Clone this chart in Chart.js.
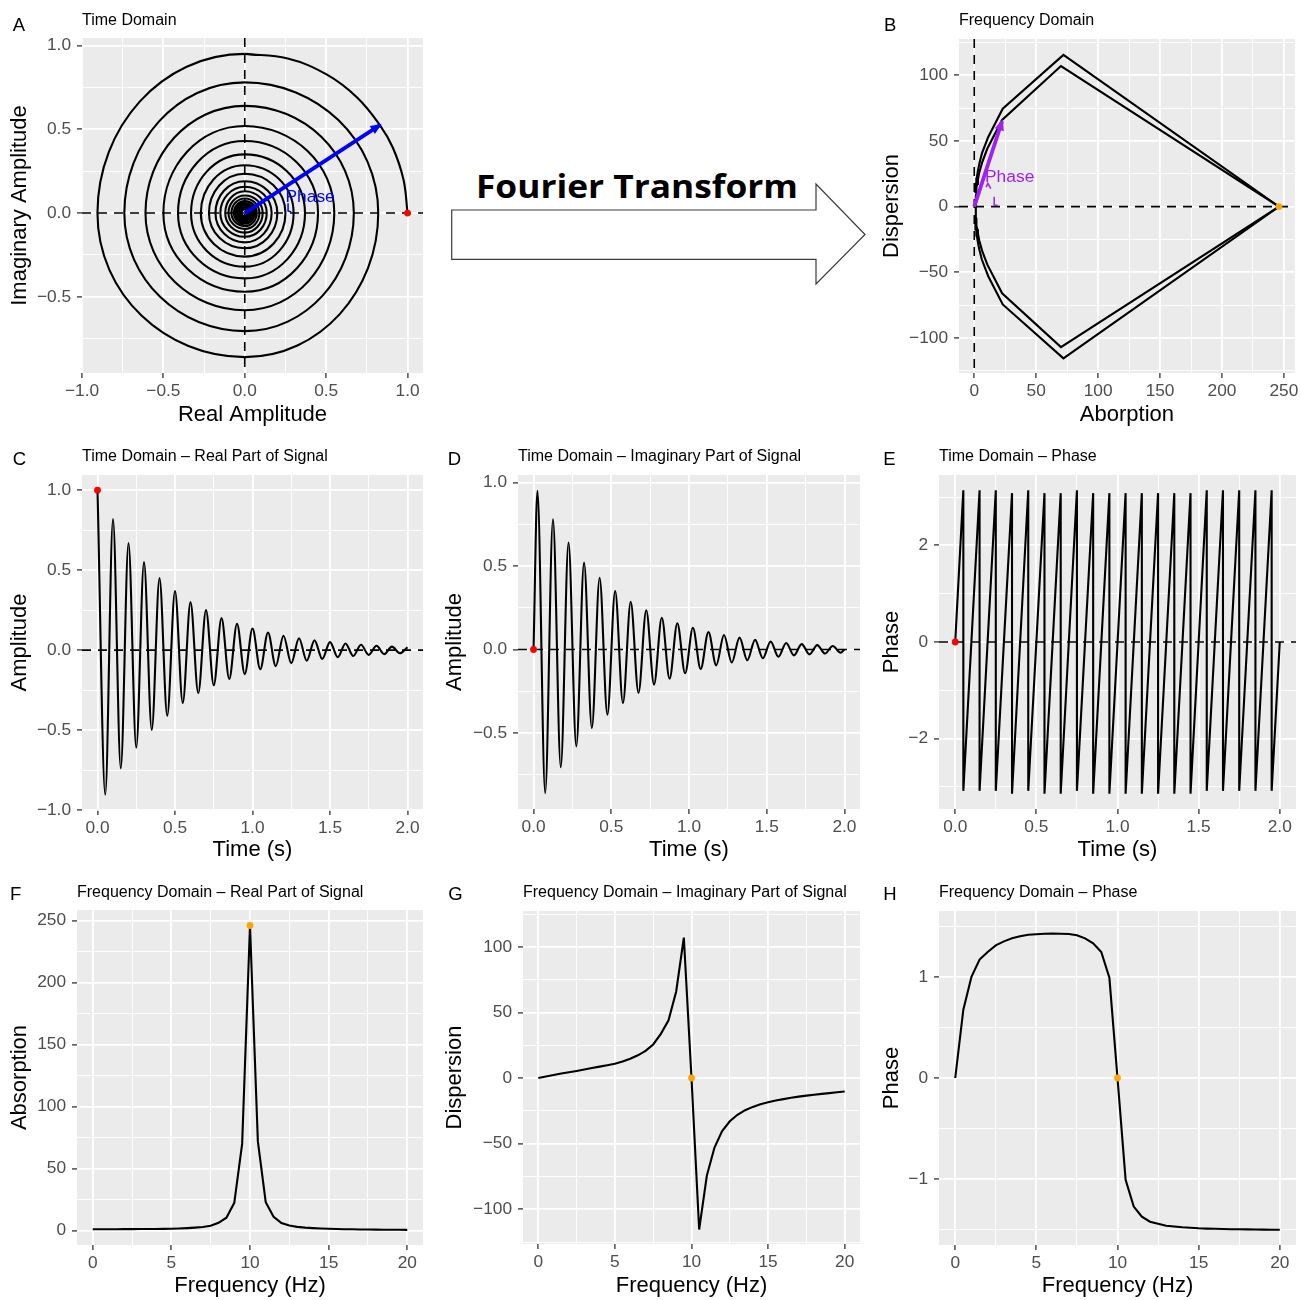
<!DOCTYPE html>
<html lang="en">
<head>
<meta charset="UTF-8">
<title>Fourier Transform of a decaying complex signal</title>
<script src="https://cdn.jsdelivr.net/npm/chart.js"></script>
<style>
  body {
    margin: 0;
    background: #ffffff;
    width: 1301px;
    height: 1300px;
    position: relative;
    overflow: hidden;
  }
  canvas { position: absolute; }
  #ftArrow { position: absolute; left: 435px; top: 150px; }
</style>
</head>
<body>
<svg id="ftArrow" width="435" height="150" viewBox="435 150 435 150">
  <path d="M451.7,210 L816,210 L816,184 L865,234.5 L816,284 L816,259.3 L451.7,259.3 Z"
        fill="#ffffff" stroke="#3a3a3a" stroke-width="1.2"/>
  <text x="476" y="198" font-family="'Open Sans', 'Liberation Sans', sans-serif" font-weight="700"
        font-size="32.5" textLength="322" lengthAdjust="spacingAndGlyphs" fill="#000">Fourier Transform</text>
</svg>
<script>
const FONT = "'Liberation Sans', Arial, Helvetica, sans-serif";
Chart.defaults.font.family = FONT;

// ---------- time domain ----------
// real part: extrema every half period of the 10 Hz carrier
const reTimes = [0, 0.05, 0.1, 0.15, 0.2, 0.25, 0.3, 0.35, 0.4, 0.45, 0.5, 0.55, 0.6, 0.65, 0.7,
  0.75, 0.8, 0.85, 0.9, 0.95, 1.0, 1.05, 1.1, 1.15, 1.2, 1.25, 1.3, 1.35, 1.4, 1.45, 1.5, 1.55,
  1.6, 1.65, 1.7, 1.75, 1.8, 1.85, 1.9, 1.95, 2.0];
const reExtrema = [1.0, -0.905, 0.82, -0.74, 0.67, -0.61, 0.55, -0.50, 0.45, -0.41, 0.37, -0.33,
  0.30, -0.27, 0.25, -0.22, 0.20, -0.18, 0.165, -0.15, 0.135, -0.12, 0.11, -0.10, 0.09, -0.082,
  0.074, -0.067, 0.061, -0.055, 0.05, -0.045, 0.041, -0.037, 0.033, -0.03, 0.027, -0.025, 0.022,
  -0.02, 0.018];

// imaginary part: start, extrema (quarter period offset), end
const imTimes = [0, 0.025, 0.075, 0.125, 0.175, 0.225, 0.275, 0.325, 0.375, 0.425, 0.475, 0.525,
  0.575, 0.625, 0.675, 0.725, 0.775, 0.825, 0.875, 0.925, 0.975, 1.025, 1.075, 1.125, 1.175,
  1.225, 1.275, 1.325, 1.375, 1.425, 1.475, 1.525, 1.575, 1.625, 1.675, 1.725, 1.775, 1.825,
  1.875, 1.925, 1.975, 2.0];
const imValues = [0, 0.95, -0.86, 0.78, -0.705, 0.64, -0.58, 0.52, -0.47, 0.43, -0.39, 0.35,
  -0.32, 0.285, -0.26, 0.235, -0.21, 0.19, -0.175, 0.157, -0.142, 0.13, -0.117, 0.105, -0.095,
  0.087, -0.078, 0.071, -0.064, 0.058, -0.052, 0.048, -0.043, 0.039, -0.035, 0.032, -0.029,
  0.026, -0.024, 0.021, -0.019, 0];

// first quarter turn of the complex signal (real, imaginary)
const firstTurnRe = [1.0, 0.975, 0.91, 0.83, 0.69, 0.505, 0.264, 0];
const firstTurnIm = [0, 0.2, 0.39, 0.525, 0.69, 0.826, 0.922, 0.95];

// wrapped phase: jumps from +pi to -pi
const phaseStart = [0, 0];
const phaseEnd = [2.0, 0];
const phaseWrapTimes = [0.05, 0.15, 0.25, 0.35, 0.45, 0.55, 0.65, 0.75, 0.85, 0.95, 1.05, 1.15,
  1.25, 1.35, 1.45, 1.55, 1.65, 1.75, 1.85, 1.95];
const phaseTop = [3.14, 3.14, 3.14, 3.08, 3.14, 3.08, 3.08, 3.14, 3.08, 3.08, 3.08, 3.08, 3.08,
  3.08, 3.08, 3.14, 3.14, 3.14, 3.14, 3.14];
const phaseBottom = [-3.08, -3.08, -3.08, -3.14, -3.08, -3.14, -3.14, -3.08, -3.14, -3.14, -3.14,
  -3.14, -3.14, -3.14, -3.14, -3.08, -3.08, -3.08, -3.08, -3.08];

// phase vector drawn on the complex plane
const timeVector = [0.83, 0.525];

// ---------- frequency domain ----------
const freqs = [0, 0.5, 1, 1.5, 2, 2.5, 3, 3.5, 4, 4.5, 5, 5.5, 6, 6.5, 7, 7.5, 8, 8.5, 9, 9.5, 10,
  10.5, 11, 11.5, 12, 12.5, 13, 13.5, 14, 14.5, 15, 15.5, 16, 16.5, 17, 17.5, 18, 18.5, 19, 19.5, 20];
const absorption = [1.2, 1.2, 1.2, 1.25, 1.3, 1.3, 1.35, 1.4, 1.45, 1.5, 1.6, 1.8, 2.1, 2.5, 3.0,
  4.0, 6.4, 10.5, 22.5, 70, 246, 72, 23, 11.3, 6.2, 4.2, 3.1, 2.5, 2.1, 1.8, 1.6, 1.4, 1.25, 1.15,
  1.05, 0.95, 0.9, 0.85, 0.8, 0.75, 0.72];
const dispersion = [0, 1.2, 2.3, 3.4, 4.4, 5.4, 6.5, 7.6, 8.7, 9.8, 10.9, 12.6, 14.7, 17.3, 20.7,
  25.6, 33.7, 44, 66, 107, 0, -115.5, -74.5, -53, -40.5, -33, -28, -24.5, -22, -20, -18.5, -17.2,
  -16.1, -15.1, -14.2, -13.4, -12.7, -12.1, -11.5, -10.9, -10.3];
const freqPhase = [0, 0.675, 1.0, 1.17, 1.245, 1.31, 1.35, 1.38, 1.40, 1.415, 1.42, 1.425, 1.426,
  1.425, 1.423, 1.41, 1.38, 1.33, 1.245, 0.99, 0, -1.005, -1.27, -1.37, -1.42, -1.44, -1.46, -1.468,
  -1.475, -1.48, -1.485, -1.488, -1.49, -1.492, -1.494, -1.495, -1.496, -1.497, -1.498, -1.499, -1.5];
const resonance = 20; // index of the 10 Hz bin

const freqVector = [22.5, 65];

// ---------- point lists ----------
const rePoints = reTimes.map((t, i) => ({ x: t, y: reExtrema[i] }));
const imPoints = imTimes.map((t, i) => ({ x: t, y: imValues[i] }));

// complex plane: the signal crosses the axes at each quarter turn
const spiral = [];
reExtrema.forEach((r, k) => {
  spiral.push({ x: r, y: 0 });
  if (k < imValues.length - 2) spiral.push({ x: 0, y: imValues[k + 1] });
});
const firstTurn = firstTurnRe.map((x, i) => ({ x: x, y: firstTurnIm[i] }));

const phasePoints = [{ x: phaseStart[0], y: phaseStart[1] }];
phaseWrapTimes.forEach((t, i) => {
  phasePoints.push({ x: t, y: phaseTop[i] });
  phasePoints.push({ x: t, y: phaseBottom[i] });
});
phasePoints.push({ x: phaseEnd[0], y: phaseEnd[1] });

const absPoints = freqs.map((f, i) => ({ x: f, y: absorption[i] }));
const dispPoints = freqs.map((f, i) => ({ x: f, y: dispersion[i] }));
const fPhasePoints = freqs.map((f, i) => ({ x: f, y: freqPhase[i] }));
const nyquist = freqs.map((f, i) => ({ x: absorption[i], y: dispersion[i] }));
const nyquistMirror = freqs.map((f, i) => ({ x: absorption[i], y: -dispersion[i] }));

// ---------- helpers ----------
const RED = '#FF0000', ORANGE = '#FFA500', BLUE = '#0000FF', PURPLE = '#A020F0';
const LINE_W = 2.1;

const lineSet = (points, extra) => Object.assign({
  data: points, showLine: true, borderColor: '#000000', borderWidth: LINE_W,
  pointRadius: 0, tension: 0, order: 2
}, extra || {});
const dotSet = (points, color) => ({
  data: points, showLine: false, pointRadius: 3.4, pointBackgroundColor: color,
  pointBorderWidth: 0, borderWidth: 0, order: 0
});

function fmt(v, d) { return v.toFixed(d).replace('-', '\u2212'); }

function axisOpts(ax, fitKey, fitVal, pad) {
  const [min, max, major, minor, digits] = ax;
  const all = major.concat(minor).sort((a, b) => a - b);
  const isMajor = v => major.some(m => Math.abs(m - v) < 1e-9);
  return {
    type: 'linear', min: min, max: max,
    afterBuildTicks: s => { s.ticks = all.map(v => ({ value: v })); },
    afterFit: s => { s[fitKey] = fitVal; },
    ticks: {
      autoSkip: false, maxRotation: 0, minRotation: 0, padding: pad, color: '#4D4D4D',
      font: { size: 17.3 },
      callback: v => isMajor(v) ? fmt(v, digits) : ''
    },
    grid: {
      color: '#FFFFFF',
      lineWidth: c => (c.tick && isMajor(c.tick.value)) ? 1.8 : 0.9,
      drawTicks: true, tickLength: 5, tickWidth: 1.3,
      tickColor: c => (c.tick && isMajor(c.tick.value)) ? '#333333' : 'rgba(0,0,0,0)'
    },
    border: { display: false }
  };
}

const rows = [
  { top: 0, h: 437, letterY: 30.5, titleY: 25, xTitleY: 420.5 },
  { top: 437, h: 436, letterY: 465, titleY: 460.5, xTitleY: 856 },
  { top: 873, h: 427, letterY: 900, titleY: 896.5, xTitleY: 1292 }
];
const cols = [
  { left: 0, w: 435, yTitleX: 26 },
  { left: 435, w: 435, yTitleX: 461 },
  { left: 870, w: 431, yTitleX: 897.5 }
];

const panelSpecs = {};

const ggPanel = {
  id: 'ggPanel',
  beforeDraw(chart) {
    const a = chart.chartArea, ctx = chart.ctx;
    ctx.save();
    ctx.fillStyle = '#EBEBEB';
    ctx.fillRect(a.left, a.top, a.right - a.left, a.bottom - a.top);
    ctx.restore();
  },
  beforeDatasetsDraw(chart) {
    const spec = panelSpecs[chart.canvas.id];
    const a = chart.chartArea, ctx = chart.ctx;
    ctx.save();
    ctx.beginPath();
    ctx.rect(a.left, a.top, a.right - a.left, a.bottom - a.top);
    ctx.clip();
    ctx.strokeStyle = '#000000';
    ctx.lineWidth = 1.6;
    ctx.setLineDash([9, 7]);
    if (spec.zeroH) {
      const y = chart.scales.y.getPixelForValue(0);
      ctx.beginPath(); ctx.moveTo(a.left, y); ctx.lineTo(a.right, y); ctx.stroke();
    }
    if (spec.zeroV) {
      const x = chart.scales.x.getPixelForValue(0);
      ctx.beginPath(); ctx.moveTo(x, a.top); ctx.lineTo(x, a.bottom); ctx.stroke();
    }
    ctx.restore();
  },
  afterDatasetsDraw(chart) {
    const spec = panelSpecs[chart.canvas.id];
    const ctx = chart.ctx, xs = chart.scales.x, ys = chart.scales.y;
    ctx.save();
    // arrow heads on phase vectors
    chart.data.datasets.forEach((ds, i) => {
      if (!ds.arrowHead) return;
      const pts = chart.getDatasetMeta(i).data;
      const p1 = pts[pts.length - 1], p0 = pts[pts.length - 2];
      const ang = Math.atan2(p1.y - p0.y, p1.x - p0.x);
      const c = Math.cos(ang), s = Math.sin(ang), L = 11, W = 4.8;
      const tx = p1.x + 2 * c, ty = p1.y + 2 * s;
      ctx.fillStyle = ds.borderColor;
      ctx.beginPath();
      ctx.moveTo(tx, ty);
      ctx.lineTo(tx - L * c + W * s, ty - L * s - W * c);
      ctx.lineTo(tx - L * c - W * s, ty - L * s + W * c);
      ctx.closePath();
      ctx.fill();
    });
    // angle marks
    (spec.marks || []).forEach(m => {
      ctx.strokeStyle = m.color;
      ctx.lineWidth = 1.5;
      ctx.setLineDash([]);
      ctx.beginPath();
      m.pts.forEach((p, j) => {
        const px = xs.getPixelForValue(p[0]), py = ys.getPixelForValue(p[1]);
        if (j === 0) ctx.moveTo(px, py); else ctx.lineTo(px, py);
      });
      ctx.stroke();
    });
    // text annotations
    (spec.labels || []).forEach(l => {
      ctx.fillStyle = l.color;
      ctx.font = '17.4px ' + FONT;
      ctx.textAlign = 'left';
      ctx.textBaseline = 'middle';
      ctx.fillText(l.text, xs.getPixelForValue(l.x), ys.getPixelForValue(l.y));
    });
    ctx.restore();
  },
  afterDraw(chart) {
    const spec = panelSpecs[chart.canvas.id];
    const a = chart.chartArea, ctx = chart.ctx;
    const row = rows[spec.row], col = cols[spec.col];
    ctx.save();
    ctx.fillStyle = '#000000';
    ctx.textBaseline = 'alphabetic';
    ctx.textAlign = 'left';
    ctx.font = '18.5px ' + FONT;
    ctx.fillText(spec.letter, spec.letterX - col.left, row.letterY - row.top);
    ctx.font = '16px ' + FONT;
    ctx.fillText(spec.title, a.left, row.titleY - row.top);
    ctx.font = '22px ' + FONT;
    ctx.textAlign = 'center';
    ctx.fillText(spec.xTitle, (a.left + a.right) / 2, row.xTitleY - row.top);
    ctx.translate(col.yTitleX - col.left, (a.top + a.bottom) / 2);
    ctx.rotate(-Math.PI / 2);
    ctx.fillText(spec.yTitle, 0, 0);
    ctx.restore();
  }
};

function makePanel(spec) {
  const row = rows[spec.row], col = cols[spec.col];
  const [pl, pt, pr, pb] = spec.plot;
  const canvas = document.createElement('canvas');
  canvas.id = 'panel' + spec.letter;
  canvas.width = col.w;
  canvas.height = row.h;
  canvas.style.left = col.left + 'px';
  canvas.style.top = row.top + 'px';
  document.body.appendChild(canvas);
  panelSpecs[canvas.id] = spec;
  return new Chart(canvas, {
    type: 'scatter',
    data: { datasets: spec.datasets },
    options: {
      responsive: false,
      animation: false,
      events: [],
      layout: { padding: { left: 0, top: pt - row.top, right: col.left + col.w - pr, bottom: 0 } },
      scales: {
        x: axisOpts(spec.x, 'height', row.top + row.h - pb, 2.5),
        y: axisOpts(spec.y, 'width', pl - col.left, 6)
      },
      plugins: { legend: { display: false }, tooltip: { enabled: false } }
    },
    plugins: [ggPanel]
  });
}

const halfTicks = [[-1, -0.5, 0, 0.5, 1], [-0.75, -0.25, 0.25, 0.75]];
const timeAxis = [-0.1, 2.1, [0, 0.5, 1, 1.5, 2], [0.25, 0.75, 1.25, 1.75], 1];
const freqAxis = [-1, 21, [0, 5, 10, 15, 20], [2.5, 7.5, 12.5, 17.5], 0];
const dispAxis = [-126.5, 127.3, [-100, -50, 0, 50, 100], [-125, -75, -25, 25, 75, 125], 0];

// A: complex plane
makePanel({
  letter: 'A', letterX: 12.7, row: 0, col: 0, plot: [82, 38, 423, 373],
  title: 'Time Domain', xTitle: 'Real Amplitude', yTitle: 'Imaginary Amplitude',
  x: [-1.0, 1.095, halfTicks[0], halfTicks[1], 1],
  y: [-0.955, 1.045, [-0.5, 0, 0.5, 1], halfTicks[1], 1],
  zeroH: true, zeroV: true,
  datasets: [
    dotSet([spiral[0]], RED),
    // the opening quarter turn is drawn from its own, denser point list
    lineSet(spiral, {
      tension: 0.55,
      segment: { borderColor: c => c.p0DataIndex === 0 ? 'rgba(0,0,0,0)' : undefined }
    }),
    lineSet(firstTurn, { tension: 0.4 }),
    lineSet([{ x: 0, y: 0 }, { x: timeVector[0], y: timeVector[1] }],
      { borderColor: BLUE, borderWidth: 3.8, arrowHead: true, order: 1 })
  ],
  labels: [{ text: 'Phase', x: 0.25, y: 0.094, color: BLUE }],
  marks: [{ color: BLUE, pts: [[0.266, 0.058], [0.266, 0.012], [0.285, 0.006]] }]
});

// B: frequency domain, absorption vs dispersion
makePanel({
  letter: 'B', letterX: 884, row: 0, col: 2, plot: [959, 39, 1296, 373],
  title: 'Frequency Domain', xTitle: 'Aborption', yTitle: 'Dispersion',
  x: [-12.3, 258.8, [0, 50, 100, 150, 200, 250], [25, 75, 125, 175, 225], 0],
  y: [-126.7, 127.6, [-100, -50, 0, 50, 100], [-125, -75, -25, 25, 75, 125], 0],
  zeroH: true, zeroV: true,
  datasets: [
    dotSet([nyquist[resonance]], ORANGE),
    lineSet(nyquist),
    lineSet(nyquistMirror),
    lineSet([{ x: 0, y: 0 }, { x: freqVector[0], y: freqVector[1] }],
      { borderColor: PURPLE, borderWidth: 3.8, arrowHead: true, order: 1 })
  ],
  labels: [{ text: 'Phase', x: 8.7, y: 22, color: PURPLE }],
  marks: [
    { color: PURPLE, pts: [[9.6, 14.8], [11.0, 17.6], [13.4, 13.6]] },
    { color: PURPLE, pts: [[16.1, 7.5], [16.1, 1.2], [19.0, 0.8]] }
  ]
});

// C: real part
makePanel({
  letter: 'C', letterX: 12.7, row: 1, col: 0, plot: [82, 475, 423, 810],
  title: 'Time Domain \u2013 Real Part of Signal', xTitle: 'Time (s)', yTitle: 'Amplitude',
  x: timeAxis,
  y: [-1.0, 1.095, halfTicks[0], halfTicks[1], 1],
  zeroH: true,
  datasets: [
    dotSet([rePoints[0]], RED),
    lineSet(rePoints, { cubicInterpolationMode: 'monotone' })
  ]
});

// D: imaginary part
makePanel({
  letter: 'D', letterX: 447.7, row: 1, col: 1, plot: [518, 475, 860, 809],
  title: 'Time Domain \u2013 Imaginary Part of Signal', xTitle: 'Time (s)', yTitle: 'Amplitude',
  x: timeAxis,
  y: [-0.955, 1.045, [-0.5, 0, 0.5, 1], halfTicks[1], 1],
  zeroH: true,
  datasets: [
    dotSet([imPoints[0]], RED),
    lineSet(imPoints, { cubicInterpolationMode: 'monotone' })
  ]
});

// E: phase over time
makePanel({
  letter: 'E', letterX: 883.3, row: 1, col: 2, plot: [939, 475, 1296, 809],
  title: 'Time Domain \u2013 Phase', xTitle: 'Time (s)', yTitle: 'Phase',
  x: timeAxis,
  y: [-3.456, 3.456, [-2, 0, 2], [-3, -1, 1, 3], 0],
  zeroH: true,
  datasets: [
    dotSet([phasePoints[0]], RED),
    lineSet(phasePoints)
  ]
});

// F: absorption spectrum
makePanel({
  letter: 'F', letterX: 10, row: 2, col: 0, plot: [77, 910, 423, 1245],
  title: 'Frequency Domain \u2013 Real Part of Signal', xTitle: 'Frequency (Hz)', yTitle: 'Absorption',
  x: freqAxis,
  y: [-11.5, 258.5, [0, 50, 100, 150, 200, 250], [25, 75, 125, 175, 225], 0],
  datasets: [
    dotSet([absPoints[resonance]], ORANGE),
    lineSet(absPoints)
  ]
});

// G: dispersion spectrum
makePanel({
  letter: 'G', letterX: 448.3, row: 2, col: 1, plot: [523, 911, 860, 1244],
  title: 'Frequency Domain \u2013 Imaginary Part of Signal', xTitle: 'Frequency (Hz)', yTitle: 'Dispersion',
  x: freqAxis,
  y: dispAxis,
  datasets: [
    dotSet([dispPoints[resonance]], ORANGE),
    lineSet(dispPoints)
  ]
});

// H: phase spectrum
makePanel({
  letter: 'H', letterX: 883.3, row: 2, col: 2, plot: [939, 911, 1296, 1245],
  title: 'Frequency Domain \u2013 Phase', xTitle: 'Frequency (Hz)', yTitle: 'Phase',
  x: freqAxis,
  y: [-1.65, 1.65, [-1, 0, 1], [-1.5, -0.5, 0.5, 1.5], 0],
  datasets: [
    dotSet([fPhasePoints[resonance]], ORANGE),
    lineSet(fPhasePoints)
  ]
});
</script>
</body>
</html>
